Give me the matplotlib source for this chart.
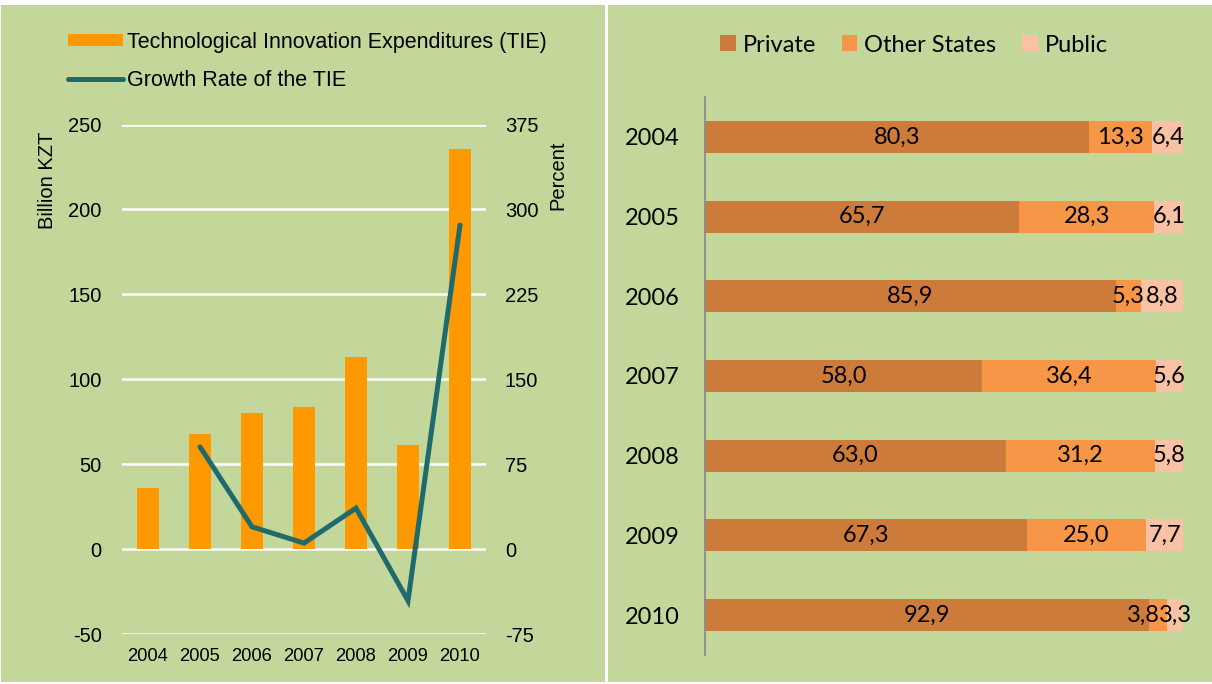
import matplotlib
matplotlib.use("Agg")
import matplotlib.pyplot as plt
from matplotlib.patches import Rectangle, Patch
from matplotlib.lines import Line2D
import numpy as np

plt.rcParams["axes.unicode_minus"] = False

# ---------------- data ----------------
years = ["2004", "2005", "2006", "2007", "2008", "2009", "2010"]
tie_billion_kzt = [35.7, 67.5, 80.2, 83.7, 113.3, 61.2, 235.3]
growth_years = ["2005", "2006", "2007", "2008", "2009", "2010"]
growth_pct = [90.3, 19.7, 5.3, 36.2, -45.6, 286.2]

share_years = ["2004", "2005", "2006", "2007", "2008", "2009", "2010"]
private = [80.3, 65.7, 85.9, 58.0, 63.0, 67.3, 92.9]
other_states = [13.3, 28.3, 5.3, 36.4, 31.2, 25.0, 3.8]
public = [6.4, 6.1, 8.8, 5.6, 5.8, 7.7, 3.3]

left_ticks = [-50, 0, 50, 100, 150, 200, 250]
right_ticks = [-75, 0, 75, 150, 225, 300, 375]

# ---------------- styling ----------------
W, H = 1212, 684
GREEN = "#C4D79B"
BAR_ORANGE = "#FF9900"
TEAL = "#1F6B6C"
C_PRIV = "#CD7B3A"
C_OTHER = "#F79646"
C_PUB = "#FAC2A4"
ARIAL = ["Liberation Sans", "DejaVu Sans"]
CAL = ["Lato", "DejaVu Sans"]
RFS = 17


def fx(x):
    return x / W


def fy(y):
    return 1 - y / H


fig = plt.figure(figsize=(W / 100, H / 100), dpi=100, facecolor="white")

# panel backgrounds
fig.patches.append(Rectangle((fx(1), fy(682)), fx(604), (682 - 5) / H,
                             transform=fig.transFigure, facecolor=GREEN,
                             edgecolor="none", zorder=-10))
fig.patches.append(Rectangle((fx(608), fy(682)), fx(604), (682 - 5) / H,
                             transform=fig.transFigure, facecolor=GREEN,
                             edgecolor="none", zorder=-10))

# ---------------- left panel ----------------
axL = fig.add_axes([fx(122), fy(634), fx(486 - 122), (634 - 124.5) / H])
axL.set_facecolor("none")
x = np.arange(len(years))
axL.bar(x, tie_billion_kzt, width=0.41, color=BAR_ORANGE, zorder=2)
axL.set_xlim(-0.5, len(years) - 0.5)
axL.set_ylim(-50, 250)
axL.set_yticks(left_ticks)
axL.set_xticks(x)
axL.set_xticklabels(years, fontfamily=ARIAL, fontsize=13.2)
axL.grid(axis="y", color="white", linewidth=1.8, zorder=0)
axL.set_axisbelow(True)
for s in axL.spines.values():
    s.set_visible(False)
axL.tick_params(axis="y", length=0, pad=14.5, labelsize=14.5)
axL.tick_params(axis="x", length=0, pad=10)
for t in axL.get_yticklabels():
    t.set_fontfamily(ARIAL)

axR = axL.twinx()
axR.set_ylim(-75, 375)
axR.set_yticks(right_ticks)
gx = [years.index(g) for g in growth_years]
axR.plot(gx, growth_pct, color=TEAL, linewidth=3.6, solid_capstyle="round",
         solid_joinstyle="miter", zorder=3)
for s in axR.spines.values():
    s.set_visible(False)
axR.tick_params(axis="y", length=0, pad=13.5, labelsize=14.5)
for t in axR.get_yticklabels():
    t.set_fontfamily(ARIAL)

fig.text(fx(47.5), fy(180), "Billion KZT", rotation=90, ha="center", va="center",
         fontsize=14.5, fontfamily=ARIAL)
fig.text(fx(558), fy(175), "Percent", rotation=90, ha="center", va="center",
         fontsize=14.5, fontfamily=ARIAL)

handlesL = [Patch(facecolor=BAR_ORANGE, edgecolor="none"),
            Line2D([0], [0], color=TEAL, linewidth=3.6, solid_capstyle="round")]
fig.legend(handlesL, ["Technological Innovation Expenditures (TIE)",
                      "Growth Rate of the TIE"],
           loc="upper left", bbox_to_anchor=(fx(68), fy(32)),
           frameon=False, prop={"family": ARIAL, "size": 15.5},
           handlelength=2.55, handleheight=0.5, handletextpad=0.2,
           labelspacing=0.8, borderaxespad=0, borderpad=0)

# ---------------- right panel ----------------
axB = fig.add_axes([fx(705), fy(655), fx(1183 - 705), (655 - 97) / H])
axB.set_facecolor("none")
y = np.arange(len(share_years))
bh = 0.4
left1 = np.array(private)
left2 = left1 + np.array(other_states)
axB.barh(y, private, height=bh, color=C_PRIV)
axB.barh(y, other_states, left=left1, height=bh, color=C_OTHER)
axB.barh(y, public, left=left2, height=bh, color=C_PUB)
axB.set_xlim(0, 100)
axB.set_ylim(len(share_years) - 0.5, -0.5)
axB.set_yticks(y)
axB.set_yticklabels(share_years, fontfamily=CAL, fontsize=RFS)
axB.set_xticks([])
for k, s in axB.spines.items():
    s.set_visible(k == "left")
axB.spines["left"].set_color("#868686")
axB.spines["left"].set_linewidth(1.2)
axB.tick_params(axis="y", length=0, pad=18)


def fmt(v):
    return f"{v:.1f}".replace(".", ",")


for i in range(len(share_years)):
    segs = [(0, private[i]), (left1[i], other_states[i]), (left2[i], public[i])]
    for j, (start, val) in enumerate(segs):
        cx = start + val / 2
        ha = "center"
        # very narrow middle segment: keep label clear of the next one
        if j == 1 and val < 5:
            ha = "right"
            cx = start + val / 2 + 0.3
        axB.text(cx, i, fmt(val), ha=ha, va="center",
                 fontsize=RFS, fontfamily=CAL, color="black")

handlesR = [Patch(facecolor=c, edgecolor="none") for c in (C_PRIV, C_OTHER, C_PUB)]
fig.legend(handlesR, ["Private", "Other States", "Public"], loc="center",
           bbox_to_anchor=(fx(914), fy(45)), ncol=3, frameon=False,
           prop={"family": CAL, "size": RFS}, handlelength=0.65,
           handleheight=0.65, handletextpad=0.3, columnspacing=1.1,
           borderaxespad=0, borderpad=0)

fig.savefig("out.png", dpi=100, facecolor="white")
